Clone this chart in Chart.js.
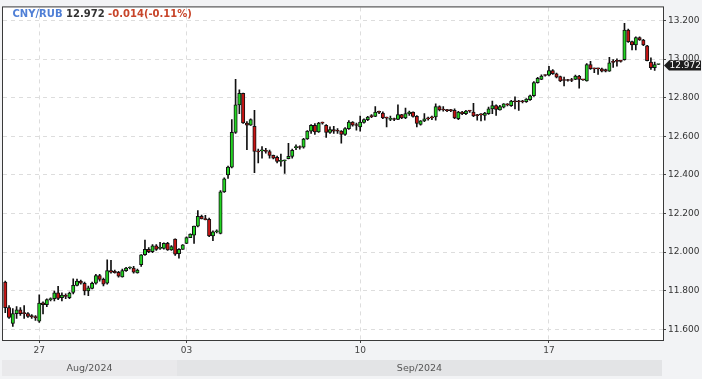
<!DOCTYPE html>
<html><head><meta charset="utf-8">
<script src="https://cdn.jsdelivr.net/npm/chart.js@4.4.1/dist/chart.umd.min.js"></script>
<style>html,body{margin:0;padding:0;background:#f2f3f5;overflow:hidden}</style>
</head><body>
<canvas id="c" width="702" height="379" style="display:block;width:702px;height:379px"></canvas>
<script>
const symbol = 'CNY/RUB';
const lastPriceText = '12.972';
const changeText = '-0.014(-0.11%)';

const opens = [11.844,11.712,11.630,11.681,11.701,11.686,11.681,11.671,11.666,11.642,
11.737,11.727,11.753,11.758,11.788,11.763,11.773,11.764,11.790,11.827,
11.849,11.838,11.798,11.812,11.838,11.878,11.858,11.838,11.904,11.900,
11.895,11.871,11.904,11.917,11.917,11.892,11.935,11.986,12.014,12.002,
12.032,12.019,12.019,12.045,12.011,12.067,11.991,12.014,12.045,12.075,
12.088,12.134,12.185,12.171,12.169,12.083,12.105,12.096,12.312,12.400,
12.440,12.620,12.763,12.822,12.669,12.657,12.652,12.521,12.524,12.527,
12.521,12.501,12.491,12.470,12.473,12.484,12.496,12.541,12.544,12.543,
12.586,12.627,12.657,12.623,12.669,12.657,12.620,12.635,12.627,12.627,
12.610,12.640,12.674,12.657,12.649,12.672,12.686,12.703,12.703,12.725,
12.720,12.695,12.688,12.689,12.688,12.712,12.695,12.717,12.725,12.703,
12.662,12.680,12.691,12.696,12.700,12.754,12.737,12.734,12.734,12.734,
12.691,12.725,12.717,12.731,12.725,12.708,12.712,12.708,12.717,12.742,
12.759,12.737,12.751,12.764,12.759,12.780,12.780,12.780,12.780,12.790,
12.810,12.878,12.895,12.916,12.917,12.941,12.924,12.909,12.890,12.890,
12.890,12.895,12.912,12.893,12.887,12.972,12.950,12.950,12.950,12.946,
12.938,12.984,12.989,12.989,12.997,13.150,13.091,13.074,13.111,13.099,
13.069,12.984,12.955,12.972];
const closes = [11.712,11.661,11.681,11.701,11.681,11.681,11.666,11.663,11.659,11.736,
11.727,11.753,11.756,11.788,11.759,11.777,11.770,11.787,11.827,11.849,
11.838,11.798,11.815,11.838,11.878,11.858,11.833,11.904,11.895,11.893,
11.875,11.904,11.917,11.919,11.895,11.906,11.986,12.014,12.002,12.032,
12.014,12.021,12.045,12.011,12.028,11.989,12.014,12.037,12.075,12.093,
12.134,12.185,12.172,12.168,12.083,12.105,12.107,12.312,12.380,12.440,
12.620,12.763,12.822,12.669,12.657,12.686,12.521,12.519,12.527,12.521,
12.501,12.487,12.470,12.473,12.475,12.496,12.527,12.544,12.542,12.586,
12.627,12.657,12.623,12.669,12.668,12.620,12.635,12.627,12.626,12.610,
12.640,12.674,12.657,12.656,12.674,12.686,12.700,12.702,12.725,12.724,
12.695,12.694,12.689,12.687,12.712,12.695,12.717,12.725,12.703,12.666,
12.680,12.691,12.690,12.695,12.754,12.737,12.736,12.733,12.733,12.695,
12.725,12.717,12.731,12.730,12.705,12.707,12.711,12.720,12.742,12.759,
12.739,12.754,12.768,12.763,12.782,12.779,12.779,12.779,12.793,12.810,
12.878,12.900,12.912,12.915,12.941,12.924,12.907,12.887,12.889,12.889,
12.889,12.912,12.895,12.892,12.972,12.950,12.949,12.949,12.938,12.938,
12.981,12.983,12.988,12.988,13.150,13.091,13.074,13.111,13.099,13.074,
12.992,12.955,12.972,12.972];
const highs = [11.850,11.722,11.707,11.717,11.712,11.722,11.686,11.676,11.671,11.778,
11.742,11.758,11.763,11.798,11.822,11.788,11.783,11.793,11.861,11.860,
11.855,11.844,11.824,11.844,11.885,11.885,11.865,11.960,11.957,11.906,
11.900,11.911,11.921,11.923,11.926,11.911,11.987,12.062,12.023,12.038,
12.038,12.050,12.048,12.050,12.033,12.069,12.018,12.038,12.079,12.094,
12.135,12.215,12.191,12.190,12.176,12.110,12.115,12.319,12.385,12.446,
12.686,12.895,12.841,12.824,12.676,12.691,12.734,12.533,12.547,12.538,
12.528,12.503,12.497,12.508,12.476,12.564,12.533,12.555,12.550,12.589,
12.630,12.661,12.666,12.672,12.673,12.661,12.649,12.652,12.640,12.630,
12.645,12.681,12.676,12.669,12.705,12.691,12.703,12.712,12.754,12.731,
12.727,12.699,12.705,12.694,12.763,12.714,12.746,12.731,12.727,12.707,
12.681,12.717,12.699,12.705,12.768,12.758,12.754,12.740,12.740,12.742,
12.729,12.729,12.735,12.735,12.771,12.714,12.717,12.724,12.751,12.782,
12.763,12.760,12.770,12.770,12.786,12.805,12.786,12.786,12.796,12.814,
12.883,12.906,12.918,12.918,12.963,12.946,12.928,12.912,12.907,12.895,
12.900,12.917,12.916,12.895,12.977,12.989,12.954,12.954,12.954,12.948,
13.009,12.997,13.001,12.992,13.185,13.156,13.094,13.116,13.115,13.102,
13.071,13.006,12.984,12.973];
const lows = [11.686,11.656,11.615,11.656,11.671,11.656,11.661,11.656,11.645,11.635,
11.679,11.717,11.747,11.747,11.753,11.747,11.758,11.758,11.783,11.824,
11.834,11.778,11.774,11.809,11.834,11.849,11.824,11.834,11.890,11.890,
11.870,11.870,11.900,11.913,11.890,11.890,11.925,11.982,11.997,11.997,
12.008,12.013,12.015,12.008,12.008,11.982,11.968,12.013,12.043,12.074,
12.045,12.130,12.171,12.166,12.079,12.059,12.099,12.094,12.309,12.382,
12.436,12.615,12.717,12.666,12.530,12.656,12.411,12.462,12.487,12.513,
12.487,12.482,12.462,12.445,12.407,12.482,12.487,12.530,12.533,12.538,
12.584,12.615,12.610,12.620,12.663,12.594,12.615,12.615,12.615,12.564,
12.605,12.635,12.653,12.632,12.627,12.668,12.681,12.696,12.702,12.717,
12.691,12.649,12.681,12.681,12.686,12.691,12.691,12.708,12.699,12.649,
12.658,12.676,12.684,12.686,12.683,12.732,12.730,12.727,12.727,12.691,
12.686,12.712,12.712,12.724,12.702,12.683,12.680,12.683,12.713,12.717,
12.708,12.735,12.747,12.757,12.755,12.742,12.734,12.773,12.775,12.786,
12.806,12.875,12.893,12.912,12.913,12.921,12.903,12.883,12.861,12.885,
12.883,12.893,12.849,12.890,12.885,12.946,12.930,12.921,12.934,12.934,
12.936,12.957,12.963,12.984,12.995,13.087,13.048,13.048,13.097,13.069,
12.990,12.946,12.941,12.971];

const xTickIndex = [9, 48, 94, 144];
const xTickLabels = ['27', '03', '10', '17'];
const yTicks = [11.6, 11.8, 12.0, 12.2, 12.4, 12.6, 12.8, 13.0, 13.2];
const months = ['Aug/2024', 'Sep/2024'];
const monthStart = [-0.6, 45.5];
const monthColors = ['#e9e9eb', '#e3e4e6'];

const UP = '#22d422', DOWN = '#c81414', INK = '#111111';
const idx = opens.map((_, i) => i);
const bodies = idx.map(i => ({x: i, y: [opens[i], closes[i]]}));
const wicks = idx.map(i => ({x: i, y: [lows[i], highs[i]]}));

const decor = {
  id: 'decor',
  beforeDraw(chart) {
    const {ctx, chartArea: a, scales: {x}} = chart;
    ctx.save();
    ctx.fillStyle = '#f2f3f5';
    ctx.fillRect(0, 0, chart.width, chart.height);
    ctx.fillStyle = '#ffffff';
    ctx.fillRect(a.left, a.top, a.right - a.left, a.bottom - a.top);
    months.forEach((m, k) => {
      const x0 = k === 0 ? a.left - 1 : Math.round(x.getPixelForValue(monthStart[k]));
      const x1 = k < months.length - 1 ? Math.round(x.getPixelForValue(monthStart[k + 1])) : a.right - 1;
      ctx.fillStyle = monthColors[k];
      ctx.fillRect(x0, 360, x1 - x0, 16);
      ctx.fillStyle = '#555555';
      ctx.font = '9.5px "DejaVu Sans"';
      ctx.textAlign = 'center';
      ctx.textBaseline = 'middle';
      ctx.fillText(m, (x0 + x1) / 2, 368.5);
    });
    ctx.restore();
  },
  afterDatasetsDraw(chart) {
    const {ctx, chartArea: a} = chart;
    ctx.save();
    ctx.strokeStyle = '#3a3a3a';
    ctx.lineWidth = 1;
    ctx.strokeRect(a.left - 0.5, a.top - 0.5, a.right - a.left + 1, a.bottom - a.top + 1);
    ctx.restore();
  },
  afterDraw(chart) {
    const {ctx, chartArea: a, scales: {y}} = chart;
    ctx.save();
    ctx.font = 'bold 10px "DejaVu Sans"';
    ctx.textBaseline = 'middle';
    ctx.textAlign = 'left';
    let tx = 12.5;
    const ty = 14;
    ctx.fillStyle = '#4f7fd6'; ctx.fillText(symbol, tx, ty); tx += ctx.measureText(symbol + ' ').width;
    ctx.fillStyle = '#333333'; ctx.fillText(lastPriceText, tx, ty); tx += ctx.measureText(lastPriceText + ' ').width;
    ctx.fillStyle = '#c8452a'; ctx.fillText(changeText, tx, ty);
    const py = Math.round(y.getPixelForValue(closes[closes.length - 1])) + 0.5;
    const x0 = a.right + 1;
    ctx.fillStyle = '#1c1c1c';
    ctx.beginPath();
    ctx.moveTo(x0, py);
    ctx.lineTo(x0 + 5, py - 5);
    ctx.lineTo(701, py - 5);
    ctx.lineTo(701, py + 5);
    ctx.lineTo(x0 + 5, py + 5);
    ctx.closePath();
    ctx.fill();
    ctx.fillStyle = '#ffffff';
    ctx.font = '9px "DejaVu Sans"';
    ctx.textAlign = 'left';
    ctx.fillText(lastPriceText, x0 + 5.5, py + 0.5);
    ctx.restore();
  }
};

new Chart(document.getElementById('c'), {
  type: 'bar',
  data: {
    datasets: [
      {data: wicks, backgroundColor: INK, borderWidth: 0, barThickness: 1, grouped: false, order: 2},
      {data: bodies, backgroundColor: c => (closes[c.dataIndex] >= opens[c.dataIndex] ? UP : DOWN),
       borderColor: INK, borderWidth: 1, borderSkipped: false, barThickness: 3.4,
       minBarLength: 1, grouped: false, order: 1}
    ]
  },
  options: {
    responsive: false, animation: false, devicePixelRatio: 1,
    layout: {padding: {left: 3, top: 3, right: 0, bottom: 0}},
    plugins: {legend: {display: false}, tooltip: {enabled: false}},
    scales: {
      x: {
        type: 'linear', min: -0.6, max: 174.2, offset: false,
        afterBuildTicks: s => { s.ticks = xTickIndex.map(v => ({value: v})); },
        afterFit: s => { s.height = 39; },
        ticks: {
          callback: v => { const k = xTickIndex.indexOf(v); return k >= 0 ? xTickLabels[k] : ''; },
          autoSkip: false, maxRotation: 0, padding: 2,
          font: {family: 'DejaVu Sans', size: 9}, color: '#444444'
        },
        grid: {offset: false, color: '#dddddd', lineWidth: 1, tickColor: '#444444', tickLength: 3},
        border: {display: false, dash: [4, 4]}
      },
      y: {
        position: 'right', min: 11.544, max: 13.268,
        afterBuildTicks: s => { s.ticks = yTicks.map(v => ({value: v})); },
        afterFit: s => { s.width = 39; },
        ticks: {
          callback: v => Number(v).toFixed(3), padding: 2,
          font: {family: 'DejaVu Sans', size: 9}, color: '#333333'
        },
        grid: {offset: false, color: '#dddddd', lineWidth: 1, tickColor: '#444444', tickLength: 3},
        border: {display: false, dash: [4, 4]}
      }
    }
  },
  plugins: [decor]
});
</script>
</body></html>
